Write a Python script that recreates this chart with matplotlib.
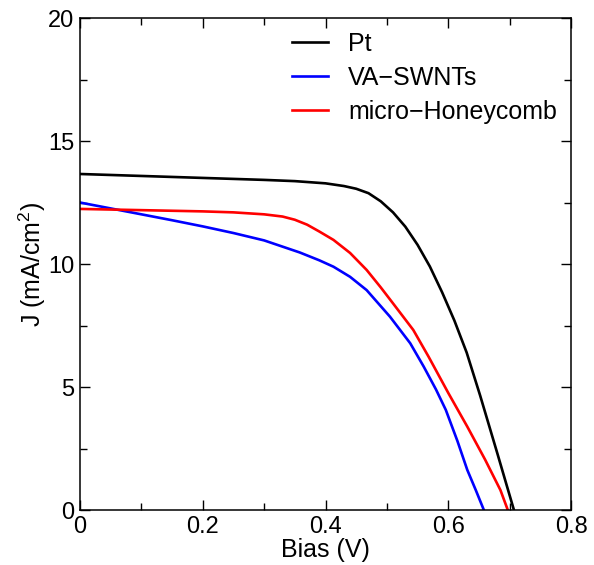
import matplotlib
matplotlib.use("Agg")
import matplotlib.pyplot as plt
from matplotlib.ticker import MultipleLocator

plt.rcParams["font.family"] = ["Liberation Sans", "DejaVu Sans"]
plt.rcParams["mathtext.fontset"] = "custom"
plt.rcParams["mathtext.rm"] = "Liberation Sans"
plt.rcParams["mathtext.it"] = "Liberation Sans"

# =========================
# Data
# =========================
pt_v = [0.00, 0.05, 0.10, 0.15, 0.20, 0.25, 0.30, 0.35, 0.40, 0.43, 0.45,
        0.47, 0.49, 0.51, 0.53, 0.55, 0.57, 0.59, 0.61, 0.63, 0.652, 0.68,
        0.707]
pt_j = [13.66, 13.62, 13.58, 13.54, 13.50, 13.46, 13.42, 13.37, 13.28, 13.17,
        13.06, 12.88, 12.55, 12.10, 11.52, 10.78, 9.90, 8.85, 7.70, 6.40,
        4.65, 2.30, 0.0]

va_v = [0.00, 0.05, 0.10, 0.15, 0.20, 0.25, 0.30, 0.358, 0.39, 0.413, 0.44,
        0.467, 0.505, 0.538, 0.56, 0.58, 0.596, 0.615, 0.631, 0.645, 0.658]
va_j = [12.50, 12.26, 12.02, 11.78, 11.53, 11.26, 10.96, 10.47, 10.15, 9.89,
        9.48, 8.94, 7.86, 6.78, 5.83, 4.90, 4.07, 2.80, 1.63, 0.80, 0.0]

mh_v = [0.00, 0.10, 0.20, 0.25, 0.30, 0.33, 0.35, 0.37, 0.39, 0.413, 0.44,
        0.467, 0.49, 0.51, 0.543, 0.568, 0.60, 0.631, 0.66, 0.685, 0.697]
mh_j = [12.24, 12.19, 12.14, 12.10, 12.02, 11.93, 11.80, 11.60, 11.32, 10.98,
        10.45, 9.76, 9.05, 8.40, 7.32, 6.23, 4.76, 3.39, 2.05, 0.81, 0.0]

series = [
    ("Pt", pt_v, pt_j, "black"),
    ("VA\u2212SWNTs", va_v, va_j, "blue"),
    ("micro\u2212Honeycomb", mh_v, mh_j, "red"),
]

# =========================
# Figure
# =========================
fig = plt.figure(figsize=(5.94, 5.65), dpi=100)
ax = fig.add_axes([0.1347, 0.0973, 0.8266, 0.8708])

for label, v, j, color in series:
    ax.plot(v, j, color=color, lw=1.9, label=label, solid_joinstyle="round")

ax.set_xlim(0, 0.8)
ax.set_ylim(0, 20)
ax.set_xticks([0, 0.2, 0.4, 0.6, 0.8])
ax.set_xticklabels(["0", "0.2", "0.4", "0.6", "0.8"])
ax.xaxis.set_minor_locator(MultipleLocator(0.1))
ax.yaxis.set_major_locator(MultipleLocator(5))
ax.yaxis.set_minor_locator(MultipleLocator(2.5))

ax.tick_params(which="both", direction="in", top=True, right=True,
               labelsize=17, width=1.0, pad=4)
ax.tick_params(which="major", length=7)
ax.tick_params(which="minor", length=5)
for s in ax.spines.values():
    s.set_linewidth(1.1)

ax.set_xlabel("Bias (V)", fontsize=18, labelpad=0)
ax.set_ylabel("J (mA/cm$^{2}$)", fontsize=18, labelpad=0)

ax.legend(loc="upper left", bbox_to_anchor=(0.432, 0.972), frameon=False,
          fontsize=18, handlelength=1.45, handletextpad=0.8,
          labelspacing=0.4, borderaxespad=0, borderpad=0)

fig.savefig("out.png", dpi=100)
